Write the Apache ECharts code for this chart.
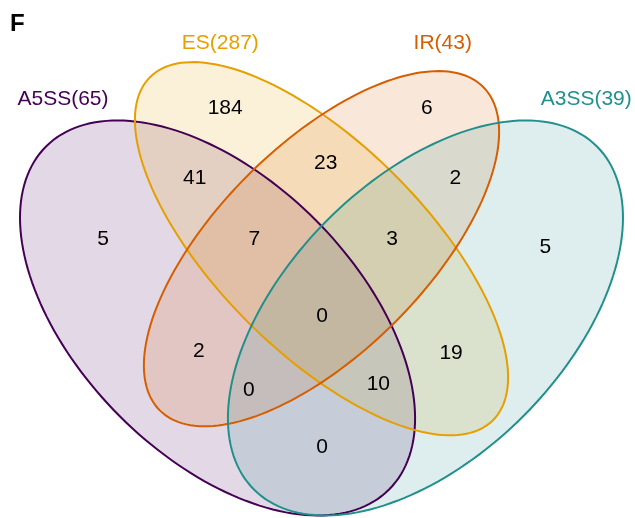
<!DOCTYPE html>
<html>
<head>
<meta charset="utf-8">
<script src="https://cdn.jsdelivr.net/npm/echarts@6/dist/echarts.min.js"></script>
<style>
  html, body { margin: 0; padding: 0; background: #ffffff; }
  #chart { width: 635px; height: 518px; }
</style>
</head>
<body>
<div id="chart"></div>
<script>
// ---- Data ----
const setNames = ['A5SS', 'ES', 'IR', 'A3SS'];
const setTotals = [65, 287, 43, 39];

// Each region is the exact combination of sets (by index) it belongs to
const regionSets = [
  [0], [1], [2], [3],
  [0, 1], [1, 2], [2, 3],
  [0, 1, 2], [1, 2, 3],
  [0, 1, 2, 3],
  [0, 2], [1, 3],
  [0, 2, 3], [0, 1, 3],
  [0, 3]
];
const regionCounts = [5, 184, 6, 5, 41, 23, 2, 7, 3, 0, 2, 19, 0, 10, 0];

// ---- Layout (unit square, y up) ----
const setColors = ['#440154', '#E69F00', '#D55E00', '#21908C'];
const ellipseShapes = [
  { cx: 0.35, cy: 0.47, a: 0.35, b: 0.20, rot: 135 },
  { cx: 0.50, cy: 0.57, a: 0.35, b: 0.15, rot: 135 },
  { cx: 0.50, cy: 0.57, a: 0.33, b: 0.15, rot: 45 },
  { cx: 0.65, cy: 0.47, a: 0.35, b: 0.20, rot: 45 }
];
const setLabelAnchors = [[0.127, 0.785], [0.354, 0.867], [0.675, 0.867], [0.882, 0.786]];
const regionAnchors = [
  [0.185, 0.583], [0.361, 0.773], [0.652, 0.773], [0.823, 0.572],
  [0.317, 0.672], [0.506, 0.693], [0.693, 0.672],
  [0.403, 0.583], [0.602, 0.583],
  [0.501, 0.473],
  [0.323, 0.422], [0.687, 0.419],
  [0.395, 0.366], [0.582, 0.375],
  [0.501, 0.284]
];

const FONT = '"Liberation Sans", Arial, Helvetica, sans-serif';

function ellipsePoints(shape, api) {
  const pts = [];
  const th = shape.rot * Math.PI / 180;
  const n = 180;
  for (let k = 0; k < n; k++) {
    const t = 2 * Math.PI * k / n;
    const x = shape.cx + shape.a * Math.cos(t) * Math.cos(th) - shape.b * Math.sin(t) * Math.sin(th);
    const y = shape.cy + shape.a * Math.cos(t) * Math.sin(th) + shape.b * Math.sin(t) * Math.cos(th);
    pts.push(api.coord([x, y]));
  }
  return pts;
}

const chart = echarts.init(document.getElementById('chart'), null, { renderer: 'canvas' });

const option = {
  animation: false,
  backgroundColor: '#ffffff',
  title: {
    text: 'F',
    left: 5,
    top: 7,
    textStyle: { fontFamily: FONT, fontWeight: 'bold', fontSize: 24, color: '#000000' }
  },
  grid: { left: 0, right: 0, top: 0, bottom: 0 },
  xAxis: { type: 'value', min: 25 / 693, max: 660 / 693, show: false },
  yAxis: { type: 'value', min: 125.7 / 693, max: 643.7 / 693, show: false },
  series: [
    {
      // translucent set fills
      type: 'custom',
      z: 1,
      silent: true,
      data: setNames.map((n, i) => [i]),
      renderItem: function (params, api) {
        const i = params.dataIndex;
        return {
          type: 'polygon',
          shape: { points: ellipsePoints(ellipseShapes[i], api) },
          style: { fill: setColors[i], opacity: 0.15 }
        };
      }
    },
    {
      // set outlines
      type: 'custom',
      z: 2,
      silent: true,
      data: setNames.map((n, i) => [i]),
      renderItem: function (params, api) {
        const i = params.dataIndex;
        return {
          type: 'polygon',
          shape: { points: ellipsePoints(ellipseShapes[i], api) },
          style: { fill: 'none', stroke: setColors[i], lineWidth: 2 }
        };
      }
    },
    {
      // region counts
      type: 'custom',
      z: 3,
      silent: true,
      data: regionCounts.map((c, i) => [regionAnchors[i][0], regionAnchors[i][1], c]),
      renderItem: function (params, api) {
        const p = api.coord([api.value(0), api.value(1)]);
        return {
          type: 'text',
          x: p[0], y: p[1],
          style: {
            text: String(api.value(2)),
            fill: '#000000',
            font: '21px ' + FONT,
            align: 'center',
            verticalAlign: 'middle'
          }
        };
      }
    },
    {
      // set titles with totals
      type: 'custom',
      z: 3,
      silent: true,
      data: setNames.map((n, i) => [setLabelAnchors[i][0], setLabelAnchors[i][1], i]),
      renderItem: function (params, api) {
        const i = params.dataIndex;
        const p = api.coord([api.value(0), api.value(1)]);
        return {
          type: 'text',
          x: p[0], y: p[1],
          style: {
            text: setNames[i] + '(' + setTotals[i] + ')',
            fill: setColors[i],
            font: '21px ' + FONT,
            align: 'center',
            verticalAlign: 'middle'
          }
        };
      }
    }
  ]
};

chart.setOption(option);
</script>
</body>
</html>
